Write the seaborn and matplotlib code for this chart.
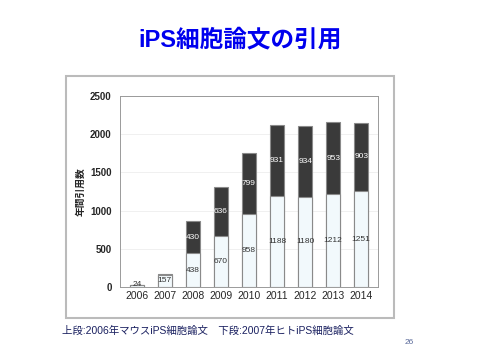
import matplotlib
matplotlib.use('Agg')
import matplotlib.pyplot as plt
import matplotlib.patches as patches
import pandas as pd
import seaborn as sns

# citations per year
years = ['2006', '2007', '2008', '2009', '2010', '2011', '2012', '2013', '2014']
lower = [24, 157, 438, 670, 958, 1188, 1180, 1212, 1251]
upper = [0, 10, 430, 636, 799, 931, 934, 953, 903]
upper_labels = ['', '', '430', '636', '799', '931', '934', '953', '903']
lower_labels = ['24', '157', '438', '670', '958', '1188', '1180', '1212', '1251']

df = pd.DataFrame({'year': years, 'lower': lower, 'upper': upper})
df['total'] = df['lower'] + df['upper']

sns.set_style('white')
plt.rcParams['font.family'] = ['Liberation Sans', 'Noto Sans CJK JP', 'DejaVu Sans']

fig = plt.figure(figsize=(4.8, 3.6), dpi=100)
ax = fig.add_axes([0.25, 0.203, 0.5375, 0.530])

sns.barplot(data=df, x='year', y='total', color='#3a3a3a', width=0.52,
            edgecolor='#8a8a8a', linewidth=0.8, ax=ax, saturation=1)
sns.barplot(data=df, x='year', y='lower', color='#f2f9fc', width=0.52,
            edgecolor='#8a8a8a', linewidth=0.8, ax=ax, saturation=1)

for i in range(len(years)):
    if upper_labels[i]:
        ax.text(i, lower[i] + upper[i] / 2, upper_labels[i], ha='center', va='center',
                fontsize=6, color='white')
    ax.text(i, max(lower[i] / 2, 30), lower_labels[i], ha='center', va='center',
            fontsize=6, color='#333333')

ax.set_ylim(0, 2500)
ax.set_xlim(-0.6, len(years) - 0.4)
ax.set_yticks([0, 500, 1000, 1500, 2000, 2500])
ax.yaxis.grid(True, color='#eeeeee', linewidth=0.6)
ax.set_axisbelow(True)
for s in ax.spines.values():
    s.set_color('#9a9a9a')
    s.set_linewidth(0.7)
ax.tick_params(axis='y', labelsize=7, pad=6, length=0)
ax.tick_params(axis='x', labelsize=7.5, length=0, pad=3)
for t in ax.get_yticklabels():
    t.set_fontweight('bold')
ax.set_xlabel('')
ax.set_ylabel('年間引用数', fontsize=7, fontweight='bold', labelpad=3)

# outer frame
fig.patches.append(patches.Rectangle((66 / 480, 1 - 318 / 360), 328 / 480, 242 / 360,
                                     transform=fig.transFigure, fill=False,
                                     edgecolor='#bbbbbb', linewidth=1.5))

fig.text(0.5, 1 - 40 / 360, 'iPS細胞論文の引用', ha='center', va='center', fontsize=17,
         fontweight='bold', color='#0000ee')
fig.text(62 / 480, 1 - 331 / 360, '上段:2006年マウスiPS細胞論文　下段:2007年ヒトiPS細胞論文',
         ha='left', va='center', fontsize=7.5, color='#1a2060')
fig.text(409 / 480, 1 - 342 / 360, '26', ha='center', va='center', fontsize=6,
         color='#5a6a9a')

fig.savefig('out.png', dpi=100)
